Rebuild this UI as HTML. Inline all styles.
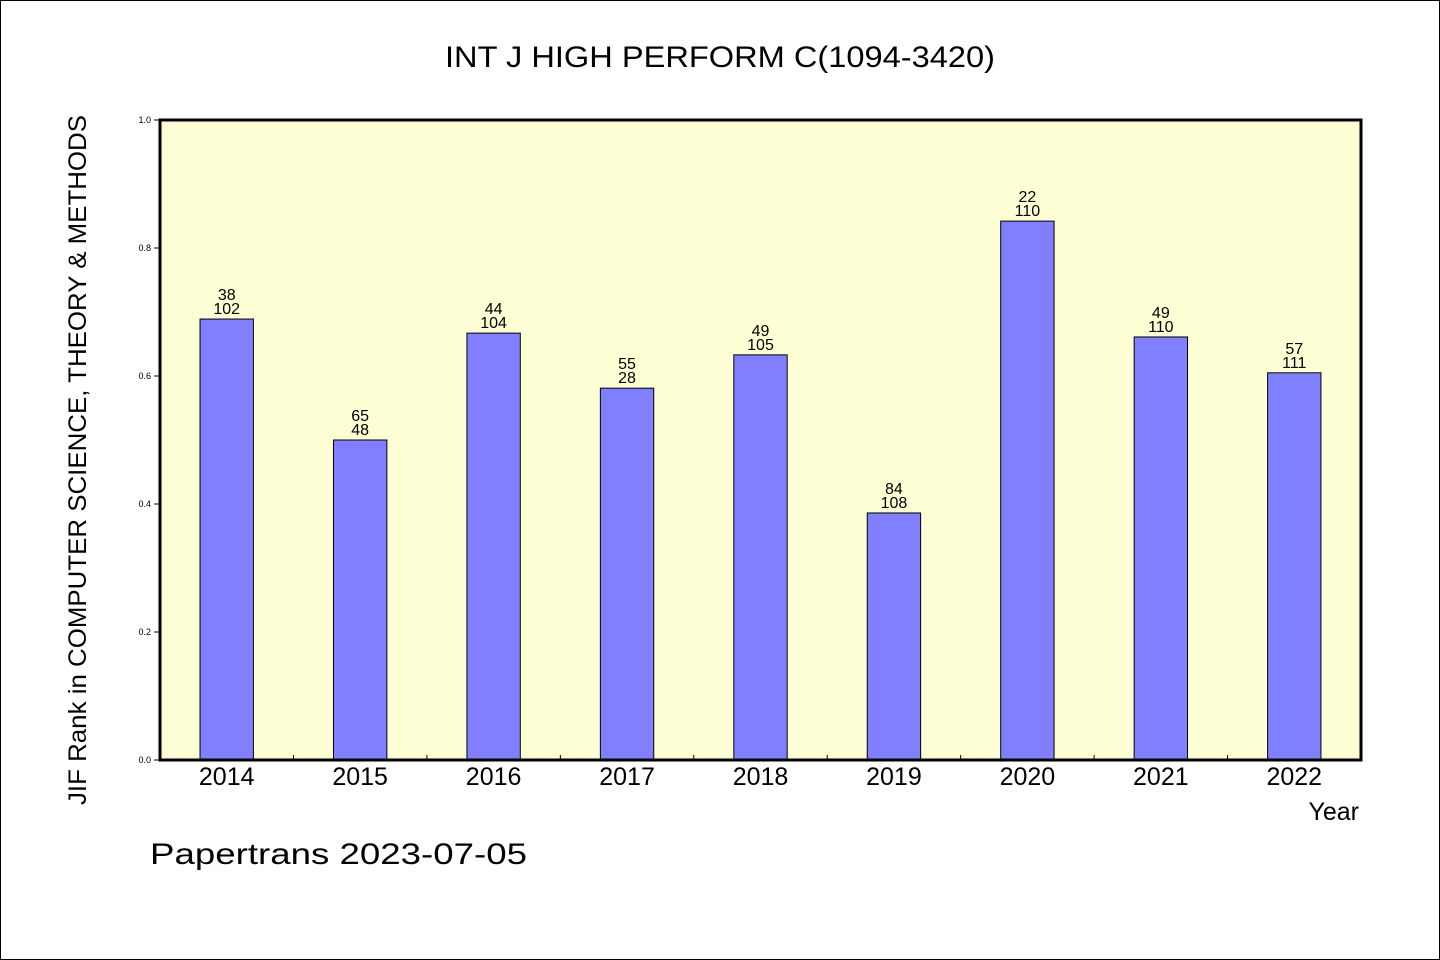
<!DOCTYPE html>
<html><head><meta charset="utf-8"><style>
html,body{margin:0;padding:0;background:#fff}
svg{display:block}
text{font-family:"WenQuanYi Zen Hei","Liberation Sans",sans-serif;fill:#000}
</style></head><body>
<svg id="chart" width="1440" height="960" xmlns="http://www.w3.org/2000/svg">
<rect x="0.5" y="0.5" width="1439" height="959" fill="#fff" stroke="#000"/>
<text x="720" y="67" font-size="30" text-anchor="middle" textLength="550" lengthAdjust="spacingAndGlyphs">INT J HIGH PERFORM C(1094-3420)</text>
<rect x="160" y="120" width="1201" height="640" fill="#ffffd5"/>
<g id="bars"></g>
<rect x="160" y="120" width="1201" height="640" fill="none" stroke="#000" stroke-width="3"/>
<g id="axes"></g>
<text transform="translate(86,460) rotate(-90)" font-size="25" text-anchor="middle" textLength="690" lengthAdjust="spacingAndGlyphs">JIF Rank in COMPUTER SCIENCE, THEORY &amp; METHODS</text>
<text x="1359" y="820" font-size="25" text-anchor="end">Year</text>
<text x="150" y="864" font-size="30" textLength="377" lengthAdjust="spacingAndGlyphs">Papertrans 2023-07-05</text>
</svg>
<script>
const years = ['2014','2015','2016','2017','2018','2019','2020','2021','2022'];
const values = [0.689,0.500,0.667,0.581,0.633,0.386,0.842,0.661,0.605];
const rankTop = ['38','65','44','55','49','84','22','49','57'];
const rankBottom = ['102','48','104','28','105','108','110','110','111'];
const yTicks = [0,0.2,0.4,0.6,0.8,1.0];
const NS='http://www.w3.org/2000/svg';
const x0=160,x1=1361,y0=760,y1=120;
const bw=(x1-x0)/years.length;
const xc=i=>x0+bw*(i+0.5);
const ys=v=>y0-(v)*(y0-y1);
function mk(tag,attrs,parent,txt){const e=document.createElementNS(NS,tag);for(const k in attrs)e.setAttribute(k,attrs[k]);if(txt!=null)e.textContent=txt;parent.appendChild(e);return e;}
const gb=document.getElementById('bars'),ga=document.getElementById('axes');
years.forEach((yr,i)=>{
  const w=bw*0.4;
  const r=mk('rect',{x:xc(i)-w/2,y:ys(values[i]),width:w,height:y0-ys(values[i]),fill:'#8080ff',stroke:'#000','stroke-width':1},gb);
  
  
  const t1=mk('text',{x:xc(i),y:ys(values[i])-19,'font-size':16,'text-anchor':'middle'},gb,rankTop[i]);
  
  
  const t2=mk('text',{x:xc(i),y:ys(values[i])-5,'font-size':16,'text-anchor':'middle'},gb,rankBottom[i]);
  
  
  const xl=mk('text',{x:xc(i),y:785,'font-size':25,'text-anchor':'middle'},ga,yr);
  
  
  if(i>0){const tk=mk('line',{x1:x0+bw*i,x2:x0+bw*i,y1:y0,y2:y0-5,stroke:'#000'},ga);
  
  }
});
yTicks.forEach(v=>{
  const tk=mk('line',{x1:x0-6,x2:x0,y1:ys(v),y2:ys(v),stroke:'#000'},ga);
  
  
  const tl=mk('text',{x:x0-9,y:ys(v)+3,'font-size':9,'text-anchor':'end'},ga,v.toFixed(1));
  
  
});
</script>
</body></html>
